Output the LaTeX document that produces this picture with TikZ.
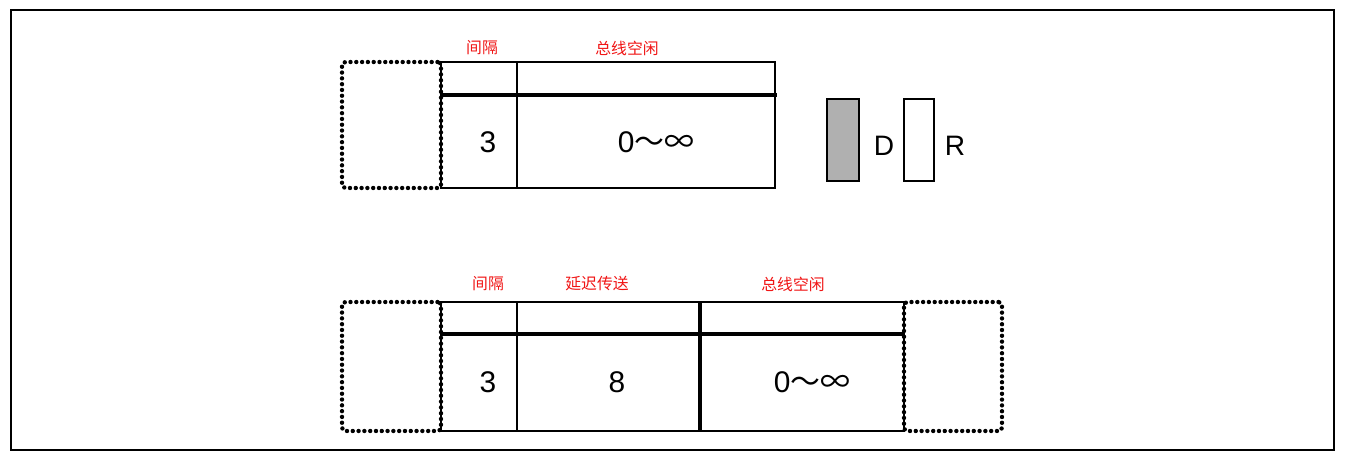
\documentclass[tikz,border=0pt]{standalone}
\usepackage{fontspec}
\setmainfont{Liberation Sans}
\newfontfamily\cjk{Noto Sans CJK SC}
\usetikzlibrary{positioning}
\definecolor{tagred}{RGB}{240,20,20}
\definecolor{dgray}{RGB}{176,176,176}
\tikzset{
  cell/.style={draw,line width=0.9pt,minimum width=#1,inner sep=0pt,outer sep=0pt},
  slot/.style={draw,line width=2.5pt,dash pattern=on 0pt off 3.3pt,line cap=round,
    rounded corners=2pt,minimum width=#1,inner sep=0pt,outer sep=0pt},
  bus/.style={line width=2.5pt},
  num/.style={font=\fontsize{17}{17}\selectfont},
  tag/.style={text=tagred,font=\cjk\fontsize{9}{9}\selectfont},
  bar/.style={draw,line width=0.9pt,minimum width=#1,minimum height=1.64cm,inner sep=0pt},
}
\newcommand{\upto}{0{\cjk ～∞}}
\begin{document}
\begin{tikzpicture}[x=0.02cm,y=-0.02cm]
  \useasboundingbox (0,0) rectangle (1346,460);
  \draw[line width=0.8pt] (11,10) rectangle (1334,450);

  % upper frame
  \begin{scope}[every node/.append style={minimum height=2.52cm}]
    \node[slot=1.98cm] (lslotA) at (391.5,125) {};
    \node[cell=1.52cm] (gapA) at (479,125) {};
    \node[cell=5.16cm] (idleA) at (646,125) {};
  \end{scope}
  \coordinate (busA1) at (441,95);
  \coordinate (busA2) at (777,95);
  \draw[bus] (busA1) -- (busA2);
  \node[num] (gapAn) at (488,142) {3};
  \node[num] (idleAn) at (656,142) {\upto};
  \node[tag] (gapAt) at (482,48) {间隔};
  \node[tag] (idleAt) at (627,48) {总线空闲};

  % D and R
  \node[bar=0.64cm,fill=dgray] (dbar) at (843,140) {};
  \node[num,font=\fontsize{16}{16}\selectfont] (dlab) at (884,146) {D};
  \node[bar=0.6cm] (rbar) at (919,140) {};
  \node[num,font=\fontsize{16}{16}\selectfont] (rlab) at (955,146) {R};

  % lower frame
  \begin{scope}[every node/.append style={minimum height=2.58cm}]
    \node[slot=1.98cm] (lslotB) at (391.5,366.5) {};
    \node[cell=1.52cm] (gapB) at (479,366.5) {};
    \node[cell=3.64cm] (delayB) at (608,366.5) {};
    \node[cell=4.06cm] (idleB) at (802.5,366.5) {};
    \node[slot=1.96cm] (rslotB) at (953,366.5) {};
  \end{scope}
  \coordinate (busB1) at (441,334);
  \coordinate (busB2) at (904,334);
  \draw[bus] (busB1) -- (busB2);
  \node[num] (gapBn) at (488,382) {3};
  \node[num] (delayBn) at (617,382) {8};
  \node[num] (idleBn) at (812,382) {\upto};
  \node[tag] (gapBt) at (488,284) {间隔};
  \node[tag] (delayBt) at (597,284) {延迟传送};
  \node[tag] (idleBt) at (793,284) {总线空闲};
\end{tikzpicture}
\end{document}
